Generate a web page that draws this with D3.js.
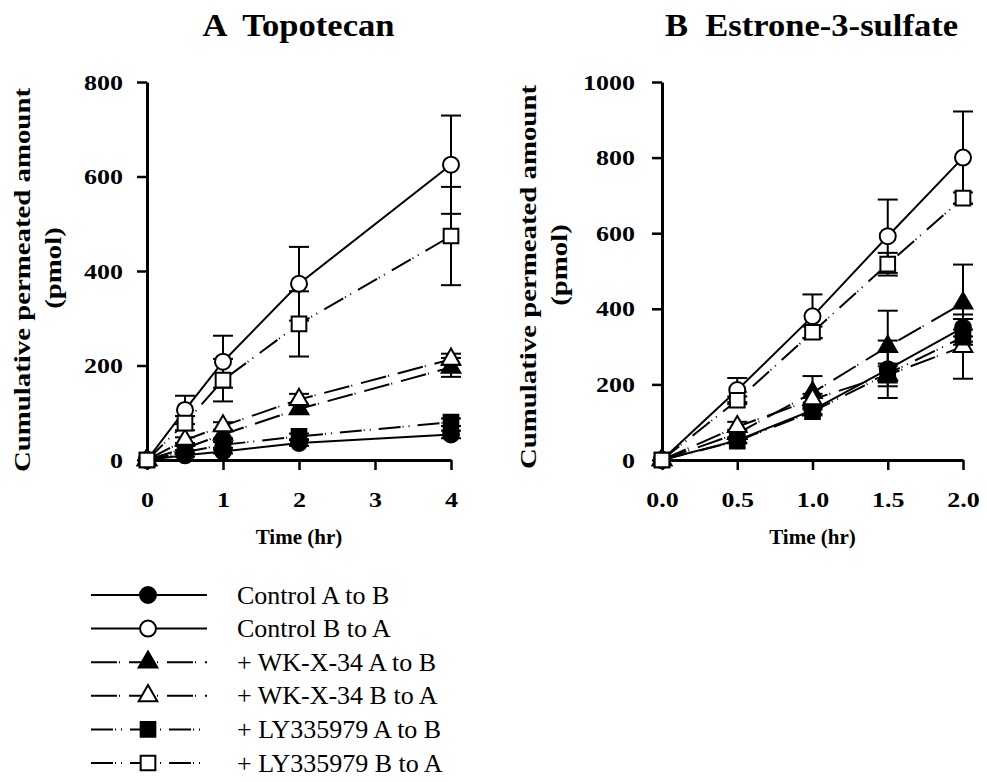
<!DOCTYPE html>
<meta charset="utf-8">
<html>
<head>
<title>Cumulative permeated amount</title>
<script src="https://cdn.jsdelivr.net/npm/d3@7"></script>
<style>
  body { margin: 0; background: #fff; }
  text { font-family: "Liberation Serif", "Times New Roman", serif; fill: #000; }
  .bold { font-weight: bold; }
  .pre { white-space: pre; }
</style>
</head>
<body>
<svg width="987" height="782"></svg>
<script>

// ---- data ----
const seriesNames = ["Control A to B", "Control B to A", "+ WK-X-34 A to B",
                     "+ WK-X-34 B to A", "+ LY335979 A to B", "+ LY335979 B to A"];

// A: Topotecan
const topoTimes = [0, 0.5, 1, 2, 4];
const topoCtrlAB   = [0, 10, 18, 36, 54];
const topoCtrlABse = [0, 3, 4, 6, 8];
const topoCtrlBA   = [0, 106, 208, 373, 625];
const topoCtrlBAse = [0, 30, 55, 78, 104];
const topoWkAB     = [0, 25, 54, 108, 196];
const topoWkABse   = [0, 5, 8, 10, 20];
const topoWkBA     = [0, 42, 72, 128, 213];
const topoWkBAse   = [0, 6, 8, 12, 12];
const topoLyAB     = [0, 17, 32, 50, 80];
const topoLyABse   = [0, 4, 6, 6, 8];
const topoLyBA     = [0, 78, 169, 288, 474];
const topoLyBAse   = [0, 15, 45, 69, 104];
const topoYTicks = [0, 200, 400, 600, 800];
const topoXTicks = [0, 1, 2, 3, 4];

// B: Estrone-3-sulfate
const e3sTimes = [0, 0.5, 1, 1.5, 2];
const e3sCtrlAB   = [0, 52, 132, 240, 350];
const e3sCtrlABse = [0, 6, 10, 76, 23];
const e3sCtrlBA   = [0, 185, 380, 592, 800];
const e3sCtrlBAse = [0, 32, 58, 97, 122];
const e3sWkAB     = [0, 70, 178, 300, 415];
const e3sWkABse   = [0, 10, 44, 95, 102];
const e3sWkBA     = [0, 88, 160, 225, 300];
const e3sWkBAse   = [0, 13, 15, 30, 85];
const e3sLyAB     = [0, 50, 128, 228, 325];
const e3sLyABse   = [0, 6, 10, 20, 20];
const e3sLyBA     = [0, 158, 338, 518, 693];
const e3sLyBAse   = [0, 10, 15, 30, 15];
const e3sYTicks = [0, 200, 400, 600, 800, 1000];
const e3sXTicks = [0, 0.5, 1, 1.5, 2];

// ---- styles ----
const styles = [
  { shape: "circle",   fill: "#000", dash: null },
  { shape: "circle",   fill: "#fff", dash: null },
  { shape: "triangle", fill: "#000", dash: "26,2,1,9" },
  { shape: "triangle", fill: "#fff", dash: "26,2,1,9" },
  { shape: "square",   fill: "#000", dash: "22,2,1,5,1,8" },
  { shape: "square",   fill: "#fff", dash: "22,2,1,5,1,8" }
];

const svg = d3.select("svg");
const stretchK = 1.18;

function stretch(sel, k) {
  sel.each(function() {
    var w = this.getComputedTextLength();
    d3.select(this).attr("textLength", w * k).attr("lengthAdjust", "spacingAndGlyphs");
  });
}

function marker(g, st, cx, cy) {
  if (st.shape == "circle") {
    g.append("circle").attr("cx", cx).attr("cy", cy).attr("r", 8)
      .attr("fill", st.fill).attr("stroke", "#000").attr("stroke-width", 2);
  } else {
    var sym = st.shape == "triangle" ? d3.symbol().type(d3.symbolTriangle).size(150)
                                     : d3.symbol().type(d3.symbolSquare).size(215);
    g.append("path").attr("d", sym()).attr("transform", "translate(" + cx + "," + cy + ")")
      .attr("fill", st.fill).attr("stroke", "#000").attr("stroke-width", 2);
  }
}

function drawPanel(p) {
  var x = d3.scaleLinear().domain([0, p.xMax]).range([p.left, p.right]);
  var y = d3.scaleLinear().domain([0, p.yMax]).range([460, 82]);
  var g = svg.append("g");

  // axes
  var ax = g.append("g").attr("transform", "translate(0,460)")
    .call(d3.axisBottom(x).tickValues(p.xTicks).tickSize(10).tickSizeOuter(0)
      .tickPadding(21).tickFormat(p.xFmt));
  var ay = g.append("g").attr("transform", "translate(" + p.left + ",0)")
    .call(d3.axisLeft(y).tickValues(p.yTicks).tickSize(10).tickSizeOuter(0)
      .tickPadding(p.yPad).tickFormat(d3.format("d")));
  [ax, ay].forEach(function(a) {
    a.select(".domain").attr("stroke-width", 3);
    a.selectAll(".tick line").attr("stroke-width", 2.5);
    a.selectAll("text").attr("class", "bold").attr("font-size", 22);
    stretch(a.selectAll("text"), stretchK);
  });

  // lines
  var line = d3.line().x(function(d) { return x(d[0]); }).y(function(d) { return y(d[1]); });
  p.series.forEach(function(s, i) {
    var pts = p.times.map(function(t, j) { return [t, s.m[j]]; });
    g.append("path").attr("d", line(pts)).attr("fill", "none")
      .attr("stroke", "#000").attr("stroke-width", 2)
      .attr("stroke-dasharray", styles[i].dash);
  });

  // error bars
  p.series.forEach(function(s) {
    p.times.forEach(function(t, j) {
      if (!s.e[j]) return;
      var cx = x(t), y1 = y(s.m[j] + s.e[j]), y0 = y(s.m[j] - s.e[j]);
      g.append("line").attr("x1", cx).attr("x2", cx).attr("y1", y0).attr("y2", y1)
        .attr("stroke", "#000").attr("stroke-width", 2);
      [y0, y1].forEach(function(yy) {
        g.append("line").attr("x1", cx - 10).attr("x2", cx + 10).attr("y1", yy).attr("y2", yy)
          .attr("stroke", "#000").attr("stroke-width", 2);
      });
    });
  });

  // markers
  p.series.forEach(function(s, i) {
    p.times.forEach(function(t, j) { marker(g, styles[i], x(t), y(s.m[j])); });
  });

  // titles and labels
  var title = g.append("text").attr("class", "bold pre").attr("font-size", 32)
    .attr("x", p.titleX).attr("y", 36).attr("text-anchor", "middle").text(p.title);
  stretch(title, 1.08);

  g.append("text").attr("class", "bold").attr("font-size", 21)
    .attr("x", (p.left + p.right) / 2).attr("y", 544).attr("text-anchor", "middle").text("Time (hr)");

  var yl1 = g.append("text").attr("class", "bold").attr("font-size", 24)
    .attr("text-anchor", "middle")
    .attr("transform", "translate(" + p.yLabX + "," + p.yLabY + ") rotate(-90)")
    .text("Cumulative permeated amount");
  stretch(yl1, 1.2);
  var yl2 = g.append("text").attr("class", "bold").attr("font-size", 24)
    .attr("text-anchor", "middle")
    .attr("transform", "translate(" + (p.yLabX + 31) + "," + (p.yLabY - 12) + ") rotate(-90)")
    .text("(pmol)");
  stretch(yl2, 1.2);
}

drawPanel({
  title: "A  Topotecan", titleX: 298.5,
  left: 147, right: 451, xMax: 4, yMax: 800, yPad: 14,
  xTicks: topoXTicks, yTicks: topoYTicks, xFmt: d3.format("d"),
  yLabX: 30, yLabY: 280,
  times: topoTimes,
  series: [
    { m: topoCtrlAB, e: topoCtrlABse }, { m: topoCtrlBA, e: topoCtrlBAse },
    { m: topoWkAB, e: topoWkABse },     { m: topoWkBA, e: topoWkBAse },
    { m: topoLyAB, e: topoLyABse },     { m: topoLyBA, e: topoLyBAse }
  ]
});

drawPanel({
  title: "B  Estrone-3-sulfate", titleX: 811.5,
  left: 662, right: 963, xMax: 2, yMax: 1000, yPad: 17,
  xTicks: e3sXTicks, yTicks: e3sYTicks, xFmt: d3.format(".1f"),
  yLabX: 536, yLabY: 277,
  times: e3sTimes,
  series: [
    { m: e3sCtrlAB, e: e3sCtrlABse }, { m: e3sCtrlBA, e: e3sCtrlBAse },
    { m: e3sWkAB, e: e3sWkABse },     { m: e3sWkBA, e: e3sWkBAse },
    { m: e3sLyAB, e: e3sLyABse },     { m: e3sLyBA, e: e3sLyBAse }
  ]
});

// legend
var leg = svg.append("g");
seriesNames.forEach(function(name, i) {
  var yy = 595 + i * 33.6;
  leg.append("line").attr("x1", 91).attr("x2", 207).attr("y1", yy).attr("y2", yy)
    .attr("stroke", "#000").attr("stroke-width", 2)
    .attr("stroke-dasharray", styles[i].dash);
  marker(leg, styles[i], 148, yy);
  leg.append("text").attr("x", 237).attr("y", yy).attr("dy", "0.33em")
    .attr("font-size", 26).text(name);
});

</script>
</body>
</html>
